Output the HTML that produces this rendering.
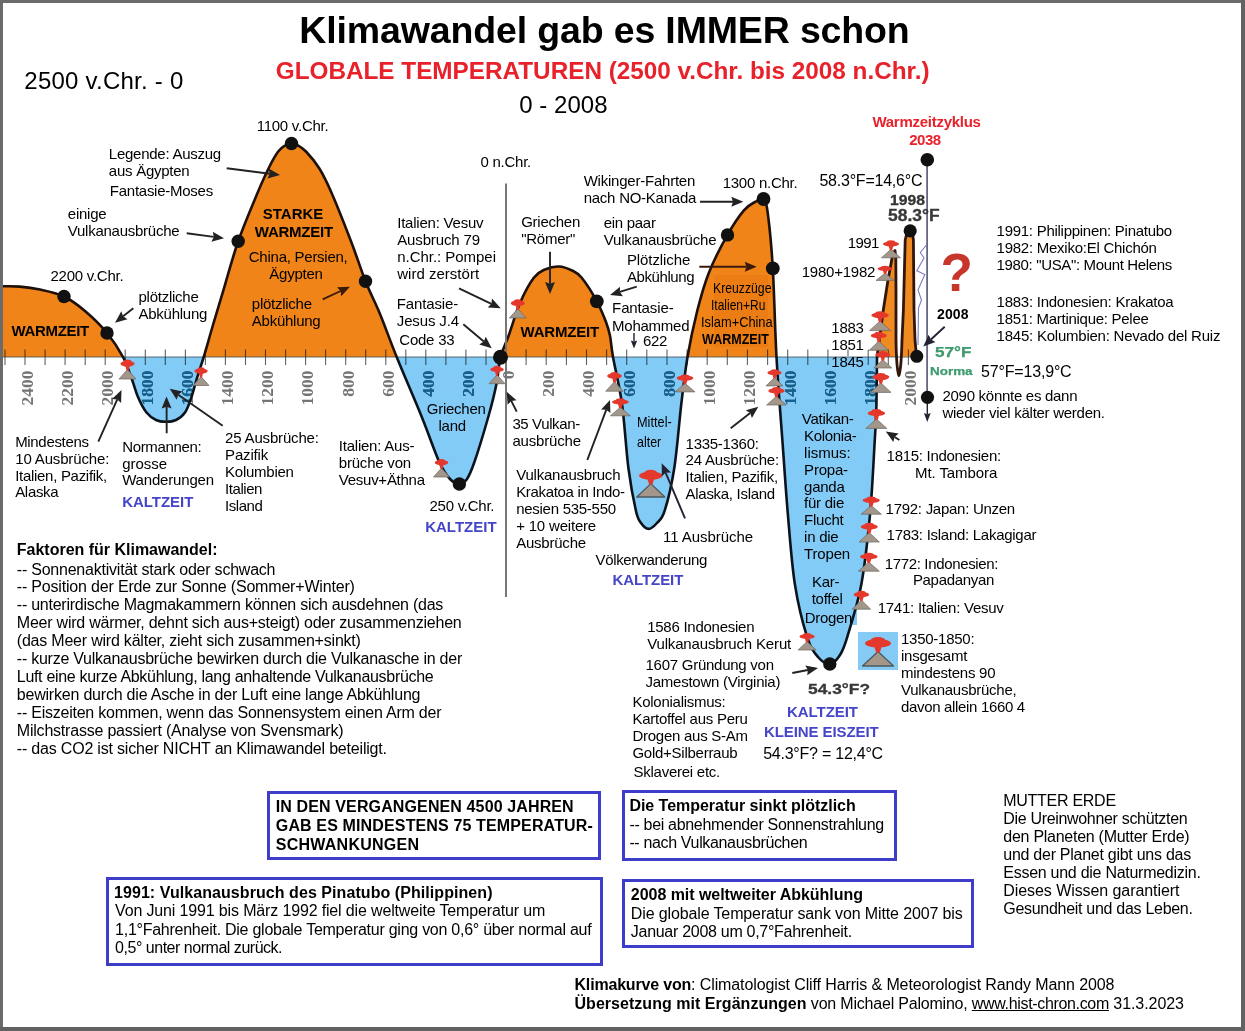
<!DOCTYPE html>
<html lang="de"><head><meta charset="utf-8"><title>Klimawandel gab es IMMER schon</title>
<style>
html,body{margin:0;padding:0;background:#fff;}
body{width:1245px;height:1031px;position:relative;overflow:hidden;font-family:"Liberation Sans",sans-serif;color:#000;}
.t{position:absolute;white-space:nowrap;}
.bx{position:absolute;border:3px solid #3d3dc9;background:#fff;}
.fr{position:absolute;background:#666;}
</style></head><body>
<svg width="1245" height="1031" viewBox="0 0 1245 1031" style="position:absolute;left:0;top:0">
<defs>
<clipPath id="up"><rect x="0" y="0" width="1245" height="357.0"/></clipPath>
<clipPath id="dn"><rect x="0" y="357.0" width="1245" height="700"/></clipPath>
</defs>
<g stroke="#606060" stroke-width="1.1"><line x1="486.0" y1="349.5" x2="486.0" y2="365" /><line x1="465.9" y1="349.5" x2="465.9" y2="365" /><line x1="445.9" y1="349.5" x2="445.9" y2="365" /><line x1="425.8" y1="349.5" x2="425.8" y2="365" /><line x1="405.8" y1="349.5" x2="405.8" y2="365" /><line x1="385.8" y1="349.5" x2="385.8" y2="365" /><line x1="365.7" y1="349.5" x2="365.7" y2="365" /><line x1="345.7" y1="349.5" x2="345.7" y2="365" /><line x1="325.6" y1="349.5" x2="325.6" y2="365" /><line x1="305.6" y1="349.5" x2="305.6" y2="365" /><line x1="285.6" y1="349.5" x2="285.6" y2="365" /><line x1="265.5" y1="349.5" x2="265.5" y2="365" /><line x1="245.5" y1="349.5" x2="245.5" y2="365" /><line x1="225.4" y1="349.5" x2="225.4" y2="365" /><line x1="205.4" y1="349.5" x2="205.4" y2="365" /><line x1="185.4" y1="349.5" x2="185.4" y2="365" /><line x1="165.3" y1="349.5" x2="165.3" y2="365" /><line x1="145.3" y1="349.5" x2="145.3" y2="365" /><line x1="125.2" y1="349.5" x2="125.2" y2="365" /><line x1="105.2" y1="349.5" x2="105.2" y2="365" /><line x1="85.2" y1="349.5" x2="85.2" y2="365" /><line x1="65.1" y1="349.5" x2="65.1" y2="365" /><line x1="45.1" y1="349.5" x2="45.1" y2="365" /><line x1="25.0" y1="349.5" x2="25.0" y2="365" /><line x1="5.0" y1="349.5" x2="5.0" y2="365" /><line x1="526.1" y1="349.5" x2="526.1" y2="365" /><line x1="546.2" y1="349.5" x2="546.2" y2="365" /><line x1="566.4" y1="349.5" x2="566.4" y2="365" /><line x1="586.5" y1="349.5" x2="586.5" y2="365" /><line x1="606.6" y1="349.5" x2="606.6" y2="365" /><line x1="626.7" y1="349.5" x2="626.7" y2="365" /><line x1="646.8" y1="349.5" x2="646.8" y2="365" /><line x1="667.0" y1="349.5" x2="667.0" y2="365" /><line x1="687.1" y1="349.5" x2="687.1" y2="365" /><line x1="707.2" y1="349.5" x2="707.2" y2="365" /><line x1="727.3" y1="349.5" x2="727.3" y2="365" /><line x1="747.4" y1="349.5" x2="747.4" y2="365" /><line x1="767.6" y1="349.5" x2="767.6" y2="365" /><line x1="787.7" y1="349.5" x2="787.7" y2="365" /><line x1="807.8" y1="349.5" x2="807.8" y2="365" /><line x1="827.9" y1="349.5" x2="827.9" y2="365" /><line x1="848.0" y1="349.5" x2="848.0" y2="365" /><line x1="868.2" y1="349.5" x2="868.2" y2="365" /><line x1="888.3" y1="349.5" x2="888.3" y2="365" /><line x1="908.4" y1="349.5" x2="908.4" y2="365" /><line x1="506.0" y1="349.5" x2="506.0" y2="365" /></g>
<g font-family="'Liberation Serif',serif" font-size="17.5" font-weight="bold" fill="#757575"><text transform="translate(473.7,370.5) rotate(-90)" text-anchor="end">200</text><text transform="translate(433.6,370.5) rotate(-90)" text-anchor="end">400</text><text transform="translate(393.6,370.5) rotate(-90)" text-anchor="end">600</text><text transform="translate(353.5,370.5) rotate(-90)" text-anchor="end">800</text><text transform="translate(313.4,370.5) rotate(-90)" text-anchor="end">1000</text><text transform="translate(273.3,370.5) rotate(-90)" text-anchor="end">1200</text><text transform="translate(233.2,370.5) rotate(-90)" text-anchor="end">1400</text><text transform="translate(193.2,370.5) rotate(-90)" text-anchor="end">1600</text><text transform="translate(153.1,370.5) rotate(-90)" text-anchor="end">1800</text><text transform="translate(113.0,370.5) rotate(-90)" text-anchor="end">2000</text><text transform="translate(72.9,370.5) rotate(-90)" text-anchor="end">2200</text><text transform="translate(32.8,370.5) rotate(-90)" text-anchor="end">2400</text><text transform="translate(513.8,370.5) rotate(-90)" text-anchor="end">0</text><text transform="translate(554.0,370.5) rotate(-90)" text-anchor="end">200</text><text transform="translate(594.3,370.5) rotate(-90)" text-anchor="end">400</text><text transform="translate(634.5,370.5) rotate(-90)" text-anchor="end">600</text><text transform="translate(674.8,370.5) rotate(-90)" text-anchor="end">800</text><text transform="translate(715.0,370.5) rotate(-90)" text-anchor="end">1000</text><text transform="translate(755.2,370.5) rotate(-90)" text-anchor="end">1200</text><text transform="translate(795.5,370.5) rotate(-90)" text-anchor="end">1400</text><text transform="translate(835.7,370.5) rotate(-90)" text-anchor="end">1600</text><text transform="translate(876.0,370.5) rotate(-90)" text-anchor="end">1800</text><text transform="translate(916.2,370.5) rotate(-90)" text-anchor="end">2000</text></g>
<rect x="832" y="356" width="35" height="14" fill="#fff"/>
<g style="mix-blend-mode:multiply">
<path d="M3.0,286.3 C5.8,286.4 13.8,286.1 20.0,286.6 C26.2,287.1 32.7,287.9 40.0,289.5 C47.3,291.1 56.5,292.9 64.0,296.5 C71.5,300.1 77.8,304.9 85.0,311.0 C92.2,317.1 100.7,325.3 107.0,333.0 C113.3,340.7 118.9,349.3 123.0,357.0 C127.1,364.7 129.3,372.3 131.8,379.0 C134.3,385.7 135.6,391.4 138.0,397.0 C140.4,402.6 143.5,408.7 146.5,412.5 C149.5,416.3 152.8,418.4 156.0,420.0 C159.2,421.6 162.7,421.8 166.0,421.8 C169.3,421.8 172.8,421.6 176.0,420.0 C179.2,418.4 182.4,416.3 185.0,412.5 C187.6,408.7 189.6,402.6 191.5,397.0 C193.4,391.4 194.7,385.7 196.7,379.0 C198.7,372.3 201.0,365.8 203.7,357.0 C206.4,348.2 209.4,337.2 212.7,326.0 C216.0,314.8 219.3,303.8 223.6,289.7 C227.8,275.6 232.5,257.4 238.2,241.2 C243.9,225.0 252.6,204.8 257.6,192.7 C262.7,180.6 265.1,175.4 268.5,168.5 C271.9,161.6 275.4,155.3 278.2,151.5 C280.9,147.7 282.8,146.8 285.0,145.5 C287.2,144.2 289.3,143.5 291.5,143.5 C293.7,143.5 295.6,144.2 298.0,145.5 C300.4,146.8 302.4,147.7 306.0,151.5 C309.6,155.3 315.1,161.6 319.4,168.5 C323.6,175.4 326.2,180.6 331.5,192.7 C336.8,204.8 345.3,226.4 351.0,241.2 C356.7,256.0 360.7,269.2 365.5,281.3 C370.3,293.4 374.8,301.4 380.0,314.0 C385.2,326.6 389.8,339.9 396.7,357.0 C403.6,374.1 414.5,399.0 421.6,416.5 C428.7,434.0 434.5,451.4 439.2,461.8 C443.9,472.2 446.6,475.3 450.0,479.0 C453.4,482.7 456.6,484.0 459.4,484.0 C462.2,484.0 464.5,482.7 467.0,479.0 C469.5,475.3 470.9,472.2 474.5,461.8 C478.1,451.4 484.7,429.5 488.4,416.5 C492.1,403.5 494.5,393.6 496.5,383.7 C498.5,373.8 498.5,365.2 500.5,357.2 C502.5,349.2 505.4,344.8 508.6,335.8 C511.9,326.8 515.8,312.7 520.0,303.0 C524.2,293.3 529.6,283.4 533.8,277.8 C538.0,272.2 540.8,271.4 545.0,269.5 C549.2,267.6 554.5,266.3 559.0,266.5 C563.5,266.7 568.2,268.6 572.0,270.5 C575.8,272.4 577.6,272.7 581.7,277.8 C585.8,282.9 592.8,293.9 596.8,301.3 C600.8,308.7 603.8,316.2 606.0,322.0 C608.2,327.8 608.8,330.0 610.0,335.8 C611.2,341.6 611.0,345.6 613.0,357.0 C615.0,368.4 619.4,385.5 622.0,404.0 C624.6,422.5 626.1,450.2 628.4,468.0 C630.7,485.8 633.8,501.5 635.9,510.7 C638.0,519.9 638.9,520.0 641.0,523.0 C643.1,526.0 646.0,528.9 648.7,528.9 C651.4,528.9 654.3,526.0 657.0,523.0 C659.7,520.0 661.8,519.9 664.7,510.7 C667.6,501.5 671.5,485.8 674.3,468.0 C677.1,450.2 679.1,422.5 681.3,404.0 C683.5,385.5 684.9,372.5 687.5,357.0 C690.1,341.5 693.7,324.9 697.2,311.0 C700.7,297.1 703.6,286.1 708.6,273.4 C713.6,260.7 721.6,245.4 727.5,234.9 C733.4,224.4 739.3,215.9 743.9,210.4 C748.5,204.9 751.7,203.9 755.0,202.0 C758.3,200.1 761.3,196.8 763.5,199.0 C765.7,201.2 766.5,203.4 768.0,215.0 C769.5,226.6 771.4,244.7 772.8,268.4 C774.2,292.1 774.9,327.6 776.5,357.0 C778.1,386.4 780.8,418.4 782.7,444.7 C784.6,471.0 785.9,491.3 787.9,514.6 C789.9,537.9 791.7,564.0 794.9,584.4 C798.1,604.8 803.2,624.7 807.1,636.8 C811.0,648.9 814.2,652.5 818.0,657.0 C821.8,661.5 826.1,664.3 829.8,664.0 C833.5,663.7 837.1,659.5 840.0,655.0 C842.9,650.5 843.8,648.6 847.3,636.8 C850.8,625.0 857.5,604.8 861.3,584.4 C865.1,564.0 867.8,537.9 870.0,514.6 C872.2,491.3 873.5,462.2 874.5,444.7 C875.5,427.2 875.9,424.4 876.3,409.8 C876.7,395.2 876.9,365.8 877.0,357.0 L877,357.0 L3,357.0 Z" fill="#f08419" clip-path="url(#up)"/>
<path d="M3.0,286.3 C5.8,286.4 13.8,286.1 20.0,286.6 C26.2,287.1 32.7,287.9 40.0,289.5 C47.3,291.1 56.5,292.9 64.0,296.5 C71.5,300.1 77.8,304.9 85.0,311.0 C92.2,317.1 100.7,325.3 107.0,333.0 C113.3,340.7 118.9,349.3 123.0,357.0 C127.1,364.7 129.3,372.3 131.8,379.0 C134.3,385.7 135.6,391.4 138.0,397.0 C140.4,402.6 143.5,408.7 146.5,412.5 C149.5,416.3 152.8,418.4 156.0,420.0 C159.2,421.6 162.7,421.8 166.0,421.8 C169.3,421.8 172.8,421.6 176.0,420.0 C179.2,418.4 182.4,416.3 185.0,412.5 C187.6,408.7 189.6,402.6 191.5,397.0 C193.4,391.4 194.7,385.7 196.7,379.0 C198.7,372.3 201.0,365.8 203.7,357.0 C206.4,348.2 209.4,337.2 212.7,326.0 C216.0,314.8 219.3,303.8 223.6,289.7 C227.8,275.6 232.5,257.4 238.2,241.2 C243.9,225.0 252.6,204.8 257.6,192.7 C262.7,180.6 265.1,175.4 268.5,168.5 C271.9,161.6 275.4,155.3 278.2,151.5 C280.9,147.7 282.8,146.8 285.0,145.5 C287.2,144.2 289.3,143.5 291.5,143.5 C293.7,143.5 295.6,144.2 298.0,145.5 C300.4,146.8 302.4,147.7 306.0,151.5 C309.6,155.3 315.1,161.6 319.4,168.5 C323.6,175.4 326.2,180.6 331.5,192.7 C336.8,204.8 345.3,226.4 351.0,241.2 C356.7,256.0 360.7,269.2 365.5,281.3 C370.3,293.4 374.8,301.4 380.0,314.0 C385.2,326.6 389.8,339.9 396.7,357.0 C403.6,374.1 414.5,399.0 421.6,416.5 C428.7,434.0 434.5,451.4 439.2,461.8 C443.9,472.2 446.6,475.3 450.0,479.0 C453.4,482.7 456.6,484.0 459.4,484.0 C462.2,484.0 464.5,482.7 467.0,479.0 C469.5,475.3 470.9,472.2 474.5,461.8 C478.1,451.4 484.7,429.5 488.4,416.5 C492.1,403.5 494.5,393.6 496.5,383.7 C498.5,373.8 498.5,365.2 500.5,357.2 C502.5,349.2 505.4,344.8 508.6,335.8 C511.9,326.8 515.8,312.7 520.0,303.0 C524.2,293.3 529.6,283.4 533.8,277.8 C538.0,272.2 540.8,271.4 545.0,269.5 C549.2,267.6 554.5,266.3 559.0,266.5 C563.5,266.7 568.2,268.6 572.0,270.5 C575.8,272.4 577.6,272.7 581.7,277.8 C585.8,282.9 592.8,293.9 596.8,301.3 C600.8,308.7 603.8,316.2 606.0,322.0 C608.2,327.8 608.8,330.0 610.0,335.8 C611.2,341.6 611.0,345.6 613.0,357.0 C615.0,368.4 619.4,385.5 622.0,404.0 C624.6,422.5 626.1,450.2 628.4,468.0 C630.7,485.8 633.8,501.5 635.9,510.7 C638.0,519.9 638.9,520.0 641.0,523.0 C643.1,526.0 646.0,528.9 648.7,528.9 C651.4,528.9 654.3,526.0 657.0,523.0 C659.7,520.0 661.8,519.9 664.7,510.7 C667.6,501.5 671.5,485.8 674.3,468.0 C677.1,450.2 679.1,422.5 681.3,404.0 C683.5,385.5 684.9,372.5 687.5,357.0 C690.1,341.5 693.7,324.9 697.2,311.0 C700.7,297.1 703.6,286.1 708.6,273.4 C713.6,260.7 721.6,245.4 727.5,234.9 C733.4,224.4 739.3,215.9 743.9,210.4 C748.5,204.9 751.7,203.9 755.0,202.0 C758.3,200.1 761.3,196.8 763.5,199.0 C765.7,201.2 766.5,203.4 768.0,215.0 C769.5,226.6 771.4,244.7 772.8,268.4 C774.2,292.1 774.9,327.6 776.5,357.0 C778.1,386.4 780.8,418.4 782.7,444.7 C784.6,471.0 785.9,491.3 787.9,514.6 C789.9,537.9 791.7,564.0 794.9,584.4 C798.1,604.8 803.2,624.7 807.1,636.8 C811.0,648.9 814.2,652.5 818.0,657.0 C821.8,661.5 826.1,664.3 829.8,664.0 C833.5,663.7 837.1,659.5 840.0,655.0 C842.9,650.5 843.8,648.6 847.3,636.8 C850.8,625.0 857.5,604.8 861.3,584.4 C865.1,564.0 867.8,537.9 870.0,514.6 C872.2,491.3 873.5,462.2 874.5,444.7 C875.5,427.2 875.9,424.4 876.3,409.8 C876.7,395.2 876.9,365.8 877.0,357.0 L877,357.0 L3,357.0 Z" fill="#82cbf7" clip-path="url(#dn)"/>
<rect x="803" y="608" width="54" height="17" fill="#82cbf7"/>
<path d="M877,357 L880,335 L883.3,310 L888,280 L893,253 L895,250.5 L895.8,258 L896,290 L896,340 C896.3,360 897.5,372 898.9,375.5 C900.3,372 901.5,360 902,340 L903.4,310 L905.2,240 L907,232.5 L912.4,232.5 L913.4,240 L914,310 L915,340 L916.5,356.5 L877,357 Z" fill="#f08b22" clip-path="url(#up)"/>
</g>
<rect x="714" y="275" width="54" height="72" fill="#e87a12" opacity="0.7"/>
<clipPath id="cf"><path d="M3.0,286.3 C5.8,286.4 13.8,286.1 20.0,286.6 C26.2,287.1 32.7,287.9 40.0,289.5 C47.3,291.1 56.5,292.9 64.0,296.5 C71.5,300.1 77.8,304.9 85.0,311.0 C92.2,317.1 100.7,325.3 107.0,333.0 C113.3,340.7 118.9,349.3 123.0,357.0 C127.1,364.7 129.3,372.3 131.8,379.0 C134.3,385.7 135.6,391.4 138.0,397.0 C140.4,402.6 143.5,408.7 146.5,412.5 C149.5,416.3 152.8,418.4 156.0,420.0 C159.2,421.6 162.7,421.8 166.0,421.8 C169.3,421.8 172.8,421.6 176.0,420.0 C179.2,418.4 182.4,416.3 185.0,412.5 C187.6,408.7 189.6,402.6 191.5,397.0 C193.4,391.4 194.7,385.7 196.7,379.0 C198.7,372.3 201.0,365.8 203.7,357.0 C206.4,348.2 209.4,337.2 212.7,326.0 C216.0,314.8 219.3,303.8 223.6,289.7 C227.8,275.6 232.5,257.4 238.2,241.2 C243.9,225.0 252.6,204.8 257.6,192.7 C262.7,180.6 265.1,175.4 268.5,168.5 C271.9,161.6 275.4,155.3 278.2,151.5 C280.9,147.7 282.8,146.8 285.0,145.5 C287.2,144.2 289.3,143.5 291.5,143.5 C293.7,143.5 295.6,144.2 298.0,145.5 C300.4,146.8 302.4,147.7 306.0,151.5 C309.6,155.3 315.1,161.6 319.4,168.5 C323.6,175.4 326.2,180.6 331.5,192.7 C336.8,204.8 345.3,226.4 351.0,241.2 C356.7,256.0 360.7,269.2 365.5,281.3 C370.3,293.4 374.8,301.4 380.0,314.0 C385.2,326.6 389.8,339.9 396.7,357.0 C403.6,374.1 414.5,399.0 421.6,416.5 C428.7,434.0 434.5,451.4 439.2,461.8 C443.9,472.2 446.6,475.3 450.0,479.0 C453.4,482.7 456.6,484.0 459.4,484.0 C462.2,484.0 464.5,482.7 467.0,479.0 C469.5,475.3 470.9,472.2 474.5,461.8 C478.1,451.4 484.7,429.5 488.4,416.5 C492.1,403.5 494.5,393.6 496.5,383.7 C498.5,373.8 498.5,365.2 500.5,357.2 C502.5,349.2 505.4,344.8 508.6,335.8 C511.9,326.8 515.8,312.7 520.0,303.0 C524.2,293.3 529.6,283.4 533.8,277.8 C538.0,272.2 540.8,271.4 545.0,269.5 C549.2,267.6 554.5,266.3 559.0,266.5 C563.5,266.7 568.2,268.6 572.0,270.5 C575.8,272.4 577.6,272.7 581.7,277.8 C585.8,282.9 592.8,293.9 596.8,301.3 C600.8,308.7 603.8,316.2 606.0,322.0 C608.2,327.8 608.8,330.0 610.0,335.8 C611.2,341.6 611.0,345.6 613.0,357.0 C615.0,368.4 619.4,385.5 622.0,404.0 C624.6,422.5 626.1,450.2 628.4,468.0 C630.7,485.8 633.8,501.5 635.9,510.7 C638.0,519.9 638.9,520.0 641.0,523.0 C643.1,526.0 646.0,528.9 648.7,528.9 C651.4,528.9 654.3,526.0 657.0,523.0 C659.7,520.0 661.8,519.9 664.7,510.7 C667.6,501.5 671.5,485.8 674.3,468.0 C677.1,450.2 679.1,422.5 681.3,404.0 C683.5,385.5 684.9,372.5 687.5,357.0 C690.1,341.5 693.7,324.9 697.2,311.0 C700.7,297.1 703.6,286.1 708.6,273.4 C713.6,260.7 721.6,245.4 727.5,234.9 C733.4,224.4 739.3,215.9 743.9,210.4 C748.5,204.9 751.7,203.9 755.0,202.0 C758.3,200.1 761.3,196.8 763.5,199.0 C765.7,201.2 766.5,203.4 768.0,215.0 C769.5,226.6 771.4,244.7 772.8,268.4 C774.2,292.1 774.9,327.6 776.5,357.0 C778.1,386.4 780.8,418.4 782.7,444.7 C784.6,471.0 785.9,491.3 787.9,514.6 C789.9,537.9 791.7,564.0 794.9,584.4 C798.1,604.8 803.2,624.7 807.1,636.8 C811.0,648.9 814.2,652.5 818.0,657.0 C821.8,661.5 826.1,664.3 829.8,664.0 C833.5,663.7 837.1,659.5 840.0,655.0 C842.9,650.5 843.8,648.6 847.3,636.8 C850.8,625.0 857.5,604.8 861.3,584.4 C865.1,564.0 867.8,537.9 870.0,514.6 C872.2,491.3 873.5,462.2 874.5,444.7 C875.5,427.2 875.9,424.4 876.3,409.8 C876.7,395.2 876.9,365.8 877.0,357.0 L877,357.0 L3,357.0 Z"/></clipPath>
<g clip-path="url(#dn)"><g clip-path="url(#cf)" font-family="'Liberation Serif',serif" font-size="17.5" font-weight="bold" fill="#14608f"><text transform="translate(153.1,370.5) rotate(-90)" text-anchor="end">1800</text><text transform="translate(193.2,370.5) rotate(-90)" text-anchor="end">1600</text><text transform="translate(433.6,370.5) rotate(-90)" text-anchor="end">400</text><text transform="translate(473.7,370.5) rotate(-90)" text-anchor="end">200</text><text transform="translate(634.5,370.5) rotate(-90)" text-anchor="end">600</text><text transform="translate(674.8,370.5) rotate(-90)" text-anchor="end">800</text><text transform="translate(795.5,370.5) rotate(-90)" text-anchor="end">1400</text><text transform="translate(835.7,370.5) rotate(-90)" text-anchor="end">1600</text><text transform="translate(876.0,370.5) rotate(-90)" text-anchor="end">1800</text></g></g>
<line x1="3" y1="357.0" x2="917" y2="357.0" stroke="#3a4a55" stroke-width="1.2" opacity="0.8"/>
<path d="M3.0,286.3 C5.8,286.4 13.8,286.1 20.0,286.6 C26.2,287.1 32.7,287.9 40.0,289.5 C47.3,291.1 56.5,292.9 64.0,296.5 C71.5,300.1 77.8,304.9 85.0,311.0 C92.2,317.1 100.7,325.3 107.0,333.0 C113.3,340.7 118.9,349.3 123.0,357.0 C127.1,364.7 129.3,372.3 131.8,379.0 C134.3,385.7 135.6,391.4 138.0,397.0 C140.4,402.6 143.5,408.7 146.5,412.5 C149.5,416.3 152.8,418.4 156.0,420.0 C159.2,421.6 162.7,421.8 166.0,421.8 C169.3,421.8 172.8,421.6 176.0,420.0 C179.2,418.4 182.4,416.3 185.0,412.5 C187.6,408.7 189.6,402.6 191.5,397.0 C193.4,391.4 194.7,385.7 196.7,379.0 C198.7,372.3 201.0,365.8 203.7,357.0 C206.4,348.2 209.4,337.2 212.7,326.0 C216.0,314.8 219.3,303.8 223.6,289.7 C227.8,275.6 232.5,257.4 238.2,241.2 C243.9,225.0 252.6,204.8 257.6,192.7 C262.7,180.6 265.1,175.4 268.5,168.5 C271.9,161.6 275.4,155.3 278.2,151.5 C280.9,147.7 282.8,146.8 285.0,145.5 C287.2,144.2 289.3,143.5 291.5,143.5 C293.7,143.5 295.6,144.2 298.0,145.5 C300.4,146.8 302.4,147.7 306.0,151.5 C309.6,155.3 315.1,161.6 319.4,168.5 C323.6,175.4 326.2,180.6 331.5,192.7 C336.8,204.8 345.3,226.4 351.0,241.2 C356.7,256.0 360.7,269.2 365.5,281.3 C370.3,293.4 374.8,301.4 380.0,314.0 C385.2,326.6 389.8,339.9 396.7,357.0 C403.6,374.1 414.5,399.0 421.6,416.5 C428.7,434.0 434.5,451.4 439.2,461.8 C443.9,472.2 446.6,475.3 450.0,479.0 C453.4,482.7 456.6,484.0 459.4,484.0 C462.2,484.0 464.5,482.7 467.0,479.0 C469.5,475.3 470.9,472.2 474.5,461.8 C478.1,451.4 484.7,429.5 488.4,416.5 C492.1,403.5 494.5,393.6 496.5,383.7 C498.5,373.8 498.5,365.2 500.5,357.2 C502.5,349.2 505.4,344.8 508.6,335.8 C511.9,326.8 515.8,312.7 520.0,303.0 C524.2,293.3 529.6,283.4 533.8,277.8 C538.0,272.2 540.8,271.4 545.0,269.5 C549.2,267.6 554.5,266.3 559.0,266.5 C563.5,266.7 568.2,268.6 572.0,270.5 C575.8,272.4 577.6,272.7 581.7,277.8 C585.8,282.9 592.8,293.9 596.8,301.3 C600.8,308.7 603.8,316.2 606.0,322.0 C608.2,327.8 608.8,330.0 610.0,335.8 C611.2,341.6 611.0,345.6 613.0,357.0 C615.0,368.4 619.4,385.5 622.0,404.0 C624.6,422.5 626.1,450.2 628.4,468.0 C630.7,485.8 633.8,501.5 635.9,510.7 C638.0,519.9 638.9,520.0 641.0,523.0 C643.1,526.0 646.0,528.9 648.7,528.9 C651.4,528.9 654.3,526.0 657.0,523.0 C659.7,520.0 661.8,519.9 664.7,510.7 C667.6,501.5 671.5,485.8 674.3,468.0 C677.1,450.2 679.1,422.5 681.3,404.0 C683.5,385.5 684.9,372.5 687.5,357.0 C690.1,341.5 693.7,324.9 697.2,311.0 C700.7,297.1 703.6,286.1 708.6,273.4 C713.6,260.7 721.6,245.4 727.5,234.9 C733.4,224.4 739.3,215.9 743.9,210.4 C748.5,204.9 751.7,203.9 755.0,202.0 C758.3,200.1 761.3,196.8 763.5,199.0 C765.7,201.2 766.5,203.4 768.0,215.0 C769.5,226.6 771.4,244.7 772.8,268.4 C774.2,292.1 774.9,327.6 776.5,357.0 C778.1,386.4 780.8,418.4 782.7,444.7 C784.6,471.0 785.9,491.3 787.9,514.6 C789.9,537.9 791.7,564.0 794.9,584.4 C798.1,604.8 803.2,624.7 807.1,636.8 C811.0,648.9 814.2,652.5 818.0,657.0 C821.8,661.5 826.1,664.3 829.8,664.0 C833.5,663.7 837.1,659.5 840.0,655.0 C842.9,650.5 843.8,648.6 847.3,636.8 C850.8,625.0 857.5,604.8 861.3,584.4 C865.1,564.0 867.8,537.9 870.0,514.6 C872.2,491.3 873.5,462.2 874.5,444.7 C875.5,427.2 875.9,424.4 876.3,409.8 C876.7,395.2 876.9,365.8 877.0,357.0" fill="none" stroke="#1d110a" stroke-width="2.6" stroke-linejoin="round" clip-path="url(#up)"/>
<path d="M3.0,286.3 C5.8,286.4 13.8,286.1 20.0,286.6 C26.2,287.1 32.7,287.9 40.0,289.5 C47.3,291.1 56.5,292.9 64.0,296.5 C71.5,300.1 77.8,304.9 85.0,311.0 C92.2,317.1 100.7,325.3 107.0,333.0 C113.3,340.7 118.9,349.3 123.0,357.0 C127.1,364.7 129.3,372.3 131.8,379.0 C134.3,385.7 135.6,391.4 138.0,397.0 C140.4,402.6 143.5,408.7 146.5,412.5 C149.5,416.3 152.8,418.4 156.0,420.0 C159.2,421.6 162.7,421.8 166.0,421.8 C169.3,421.8 172.8,421.6 176.0,420.0 C179.2,418.4 182.4,416.3 185.0,412.5 C187.6,408.7 189.6,402.6 191.5,397.0 C193.4,391.4 194.7,385.7 196.7,379.0 C198.7,372.3 201.0,365.8 203.7,357.0 C206.4,348.2 209.4,337.2 212.7,326.0 C216.0,314.8 219.3,303.8 223.6,289.7 C227.8,275.6 232.5,257.4 238.2,241.2 C243.9,225.0 252.6,204.8 257.6,192.7 C262.7,180.6 265.1,175.4 268.5,168.5 C271.9,161.6 275.4,155.3 278.2,151.5 C280.9,147.7 282.8,146.8 285.0,145.5 C287.2,144.2 289.3,143.5 291.5,143.5 C293.7,143.5 295.6,144.2 298.0,145.5 C300.4,146.8 302.4,147.7 306.0,151.5 C309.6,155.3 315.1,161.6 319.4,168.5 C323.6,175.4 326.2,180.6 331.5,192.7 C336.8,204.8 345.3,226.4 351.0,241.2 C356.7,256.0 360.7,269.2 365.5,281.3 C370.3,293.4 374.8,301.4 380.0,314.0 C385.2,326.6 389.8,339.9 396.7,357.0 C403.6,374.1 414.5,399.0 421.6,416.5 C428.7,434.0 434.5,451.4 439.2,461.8 C443.9,472.2 446.6,475.3 450.0,479.0 C453.4,482.7 456.6,484.0 459.4,484.0 C462.2,484.0 464.5,482.7 467.0,479.0 C469.5,475.3 470.9,472.2 474.5,461.8 C478.1,451.4 484.7,429.5 488.4,416.5 C492.1,403.5 494.5,393.6 496.5,383.7 C498.5,373.8 498.5,365.2 500.5,357.2 C502.5,349.2 505.4,344.8 508.6,335.8 C511.9,326.8 515.8,312.7 520.0,303.0 C524.2,293.3 529.6,283.4 533.8,277.8 C538.0,272.2 540.8,271.4 545.0,269.5 C549.2,267.6 554.5,266.3 559.0,266.5 C563.5,266.7 568.2,268.6 572.0,270.5 C575.8,272.4 577.6,272.7 581.7,277.8 C585.8,282.9 592.8,293.9 596.8,301.3 C600.8,308.7 603.8,316.2 606.0,322.0 C608.2,327.8 608.8,330.0 610.0,335.8 C611.2,341.6 611.0,345.6 613.0,357.0 C615.0,368.4 619.4,385.5 622.0,404.0 C624.6,422.5 626.1,450.2 628.4,468.0 C630.7,485.8 633.8,501.5 635.9,510.7 C638.0,519.9 638.9,520.0 641.0,523.0 C643.1,526.0 646.0,528.9 648.7,528.9 C651.4,528.9 654.3,526.0 657.0,523.0 C659.7,520.0 661.8,519.9 664.7,510.7 C667.6,501.5 671.5,485.8 674.3,468.0 C677.1,450.2 679.1,422.5 681.3,404.0 C683.5,385.5 684.9,372.5 687.5,357.0 C690.1,341.5 693.7,324.9 697.2,311.0 C700.7,297.1 703.6,286.1 708.6,273.4 C713.6,260.7 721.6,245.4 727.5,234.9 C733.4,224.4 739.3,215.9 743.9,210.4 C748.5,204.9 751.7,203.9 755.0,202.0 C758.3,200.1 761.3,196.8 763.5,199.0 C765.7,201.2 766.5,203.4 768.0,215.0 C769.5,226.6 771.4,244.7 772.8,268.4 C774.2,292.1 774.9,327.6 776.5,357.0 C778.1,386.4 780.8,418.4 782.7,444.7 C784.6,471.0 785.9,491.3 787.9,514.6 C789.9,537.9 791.7,564.0 794.9,584.4 C798.1,604.8 803.2,624.7 807.1,636.8 C811.0,648.9 814.2,652.5 818.0,657.0 C821.8,661.5 826.1,664.3 829.8,664.0 C833.5,663.7 837.1,659.5 840.0,655.0 C842.9,650.5 843.8,648.6 847.3,636.8 C850.8,625.0 857.5,604.8 861.3,584.4 C865.1,564.0 867.8,537.9 870.0,514.6 C872.2,491.3 873.5,462.2 874.5,444.7 C875.5,427.2 875.9,424.4 876.3,409.8 C876.7,395.2 876.9,365.8 877.0,357.0" fill="none" stroke="#0b141c" stroke-width="2.6" stroke-linejoin="round" clip-path="url(#dn)"/>
<path d="M877,357 L880,335 L883.3,310 L888,280 L893,253 L895,250.5 L895.8,258 L896,290 L896,340 C896.3,360 897.5,372 898.9,375.5 C900.3,372 901.5,360 902,340 L903.4,310 L905.2,240 L907,232.5 L912.4,232.5 L913.4,240 L914,310 L915,340 L916.5,356.5" fill="none" stroke="#32160c" stroke-width="2.8" stroke-linejoin="round"/>
<line x1="506" y1="183.5" x2="506" y2="597" stroke="#777" stroke-width="2"/>
<line x1="927.1" y1="160" x2="927.1" y2="402" stroke="#666680" stroke-width="1.8"/>
<path d="M926.5,245 L920.3,252.5 L924,258 L916.8,270.8 L924.8,274.5 L918,290 L921.5,300 L918.5,308 L918,345" fill="none" stroke="#6464b4" stroke-width="1.1" opacity="0.85"/>
<g style="filter:blur(0.35px)"><g><path d="M127.5,369.4 L136.0,379.0 L119.0,379.0 Z" fill="#a2978a" stroke="#6b6660" stroke-width="0.7" stroke-linejoin="round"/><ellipse cx="127.5" cy="363.7" rx="7.1" ry="2.9" fill="#e5382c"/><ellipse cx="127.5" cy="361.9" rx="3.9" ry="2.3" fill="#e5382c"/><path d="M125.0,364.0 L130.1,364.0 L128.5,370.4 L126.5,370.4 Z" fill="#e5382c"/></g><g><path d="M201.0,376.5 L209.0,385.5 L193.0,385.5 Z" fill="#a2978a" stroke="#6b6660" stroke-width="0.7" stroke-linejoin="round"/><ellipse cx="201.0" cy="371.1" rx="6.7" ry="2.7" fill="#e5382c"/><ellipse cx="201.0" cy="369.4" rx="3.7" ry="2.1" fill="#e5382c"/><path d="M198.6,371.4 L203.4,371.4 L202.0,377.5 L200.0,377.5 Z" fill="#e5382c"/></g><g><path d="M441.5,468.0 L449.5,477.0 L433.5,477.0 Z" fill="#a2978a" stroke="#6b6660" stroke-width="0.7" stroke-linejoin="round"/><ellipse cx="441.5" cy="462.7" rx="6.7" ry="2.7" fill="#e5382c"/><ellipse cx="441.5" cy="461.0" rx="3.7" ry="2.1" fill="#e5382c"/><path d="M439.1,463.0 L443.9,463.0 L442.5,469.0 L440.5,469.0 Z" fill="#e5382c"/></g><g><path d="M497.0,374.8 L505.0,383.7 L489.0,383.7 Z" fill="#a2978a" stroke="#6b6660" stroke-width="0.7" stroke-linejoin="round"/><ellipse cx="497.0" cy="369.5" rx="6.7" ry="2.6" fill="#e5382c"/><ellipse cx="497.0" cy="367.8" rx="3.7" ry="2.1" fill="#e5382c"/><path d="M494.6,369.8 L499.4,369.8 L498.0,375.8 L496.0,375.8 Z" fill="#e5382c"/></g><g><path d="M517.8,308.7 L526.3,318.0 L509.3,318.0 Z" fill="#a2978a" stroke="#6b6660" stroke-width="0.7" stroke-linejoin="round"/><ellipse cx="517.8" cy="303.2" rx="7.1" ry="2.8" fill="#e5382c"/><ellipse cx="517.8" cy="301.4" rx="3.9" ry="2.2" fill="#e5382c"/><path d="M515.2,303.5 L520.3,303.5 L518.8,309.7 L516.8,309.7 Z" fill="#e5382c"/></g><g><path d="M614.5,381.7 L623.3,391.2 L605.7,391.2 Z" fill="#a2978a" stroke="#6b6660" stroke-width="0.7" stroke-linejoin="round"/><ellipse cx="614.5" cy="376.0" rx="7.4" ry="2.8" fill="#e5382c"/><ellipse cx="614.5" cy="374.2" rx="4.1" ry="2.3" fill="#e5382c"/><path d="M611.9,376.3 L617.1,376.3 L615.6,382.7 L613.4,382.7 Z" fill="#e5382c"/></g><g><path d="M620.4,407.2 L630.4,415.8 L610.4,415.8 Z" fill="#a2978a" stroke="#6b6660" stroke-width="0.7" stroke-linejoin="round"/><ellipse cx="620.4" cy="402.0" rx="8.4" ry="2.6" fill="#e5382c"/><ellipse cx="620.4" cy="400.4" rx="4.6" ry="2.1" fill="#e5382c"/><path d="M617.4,402.3 L623.4,402.3 L621.6,408.2 L619.2,408.2 Z" fill="#e5382c"/></g><g><path d="M685.0,383.3 L695.0,391.9 L675.0,391.9 Z" fill="#a2978a" stroke="#6b6660" stroke-width="0.7" stroke-linejoin="round"/><ellipse cx="685.0" cy="378.1" rx="8.4" ry="2.6" fill="#e5382c"/><ellipse cx="685.0" cy="376.5" rx="4.6" ry="2.1" fill="#e5382c"/><path d="M682.0,378.4 L688.0,378.4 L686.2,384.3 L683.8,384.3 Z" fill="#e5382c"/></g><g><path d="M774.5,377.6 L783.0,385.9 L766.0,385.9 Z" fill="#a2978a" stroke="#6b6660" stroke-width="0.7" stroke-linejoin="round"/><ellipse cx="774.5" cy="372.7" rx="7.1" ry="2.5" fill="#e5382c"/><ellipse cx="774.5" cy="371.2" rx="3.9" ry="2.0" fill="#e5382c"/><path d="M772.0,373.0 L777.0,373.0 L775.5,378.6 L773.5,378.6 Z" fill="#e5382c"/></g><g><path d="M776.5,396.2 L786.3,405.0 L766.7,405.0 Z" fill="#a2978a" stroke="#6b6660" stroke-width="0.7" stroke-linejoin="round"/><ellipse cx="776.5" cy="390.9" rx="8.2" ry="2.6" fill="#e5382c"/><ellipse cx="776.5" cy="389.2" rx="4.5" ry="2.1" fill="#e5382c"/><path d="M773.6,391.2 L779.4,391.2 L777.7,397.2 L775.3,397.2 Z" fill="#e5382c"/></g><g><path d="M878.8,341.1 L888.3,350.3 L869.3,350.3 Z" fill="#a2978a" stroke="#6b6660" stroke-width="0.7" stroke-linejoin="round"/><ellipse cx="878.8" cy="335.7" rx="8.0" ry="2.7" fill="#e5382c"/><ellipse cx="878.8" cy="334.0" rx="4.4" ry="2.2" fill="#e5382c"/><path d="M875.9,336.0 L881.6,336.0 L879.9,342.1 L877.7,342.1 Z" fill="#e5382c"/></g><g><path d="M882.8,359.7 L891.8,368.0 L873.8,368.0 Z" fill="#a2978a" stroke="#6b6660" stroke-width="0.7" stroke-linejoin="round"/><ellipse cx="882.8" cy="354.7" rx="7.6" ry="2.5" fill="#e5382c"/><ellipse cx="882.8" cy="353.1" rx="4.2" ry="2.0" fill="#e5382c"/><path d="M880.1,355.0 L885.5,355.0 L883.9,360.7 L881.7,360.7 Z" fill="#e5382c"/></g><g><path d="M880.8,382.8 L891.0,392.4 L870.6,392.4 Z" fill="#a2978a" stroke="#6b6660" stroke-width="0.7" stroke-linejoin="round"/><ellipse cx="880.8" cy="377.1" rx="8.6" ry="2.9" fill="#e5382c"/><ellipse cx="880.8" cy="375.3" rx="4.7" ry="2.3" fill="#e5382c"/><path d="M877.7,377.4 L883.9,377.4 L882.0,383.8 L879.6,383.8 Z" fill="#e5382c"/></g><g><path d="M876.4,418.9 L886.9,428.4 L865.9,428.4 Z" fill="#a2978a" stroke="#6b6660" stroke-width="0.7" stroke-linejoin="round"/><ellipse cx="876.4" cy="413.2" rx="8.8" ry="2.8" fill="#e5382c"/><ellipse cx="876.4" cy="411.4" rx="4.9" ry="2.3" fill="#e5382c"/><path d="M873.2,413.5 L879.5,413.5 L877.7,419.9 L875.1,419.9 Z" fill="#e5382c"/></g><g><path d="M871.2,505.5 L881.4,514.2 L861.0,514.2 Z" fill="#a2978a" stroke="#6b6660" stroke-width="0.7" stroke-linejoin="round"/><ellipse cx="871.2" cy="500.3" rx="8.6" ry="2.6" fill="#e5382c"/><ellipse cx="871.2" cy="498.7" rx="4.7" ry="2.1" fill="#e5382c"/><path d="M868.1,500.6 L874.3,500.6 L872.4,506.5 L870.0,506.5 Z" fill="#e5382c"/></g><g><path d="M869.2,532.5 L879.4,542.0 L859.0,542.0 Z" fill="#a2978a" stroke="#6b6660" stroke-width="0.7" stroke-linejoin="round"/><ellipse cx="869.2" cy="526.8" rx="8.6" ry="2.8" fill="#e5382c"/><ellipse cx="869.2" cy="525.0" rx="4.7" ry="2.3" fill="#e5382c"/><path d="M866.1,527.1 L872.3,527.1 L870.4,533.5 L868.0,533.5 Z" fill="#e5382c"/></g><g><path d="M868.8,562.1 L879.3,571.2 L858.3,571.2 Z" fill="#a2978a" stroke="#6b6660" stroke-width="0.7" stroke-linejoin="round"/><ellipse cx="868.8" cy="556.7" rx="8.8" ry="2.7" fill="#e5382c"/><ellipse cx="868.8" cy="555.0" rx="4.9" ry="2.2" fill="#e5382c"/><path d="M865.6,557.0 L871.9,557.0 L870.1,563.1 L867.5,563.1 Z" fill="#e5382c"/></g><g><path d="M861.4,600.1 L870.6,609.2 L852.2,609.2 Z" fill="#a2978a" stroke="#6b6660" stroke-width="0.7" stroke-linejoin="round"/><ellipse cx="861.4" cy="594.7" rx="7.7" ry="2.7" fill="#e5382c"/><ellipse cx="861.4" cy="593.0" rx="4.3" ry="2.2" fill="#e5382c"/><path d="M858.6,595.0 L864.2,595.0 L862.5,601.1 L860.3,601.1 Z" fill="#e5382c"/></g><g><path d="M807.1,641.6 L816.1,650.0 L798.1,650.0 Z" fill="#a2978a" stroke="#6b6660" stroke-width="0.7" stroke-linejoin="round"/><ellipse cx="807.1" cy="636.5" rx="7.6" ry="2.5" fill="#e5382c"/><ellipse cx="807.1" cy="634.9" rx="4.2" ry="2.0" fill="#e5382c"/><path d="M804.4,636.8 L809.8,636.8 L808.2,642.6 L806.0,642.6 Z" fill="#e5382c"/></g><g><path d="M891.0,249.2 L900.5,257.8 L881.5,257.8 Z" fill="#a2978a" stroke="#6b6660" stroke-width="0.7" stroke-linejoin="round"/><ellipse cx="891.0" cy="244.0" rx="8.0" ry="2.6" fill="#e5382c"/><ellipse cx="891.0" cy="242.4" rx="4.4" ry="2.1" fill="#e5382c"/><path d="M888.1,244.3 L893.9,244.3 L892.1,250.2 L889.9,250.2 Z" fill="#e5382c"/></g><g><path d="M885.1,273.1 L894.1,280.4 L876.1,280.4 Z" fill="#a2978a" stroke="#6b6660" stroke-width="0.7" stroke-linejoin="round"/><ellipse cx="885.1" cy="268.7" rx="7.6" ry="2.2" fill="#e5382c"/><ellipse cx="885.1" cy="267.4" rx="4.2" ry="1.7" fill="#e5382c"/><path d="M882.4,269.0 L887.8,269.0 L886.2,274.1 L884.0,274.1 Z" fill="#e5382c"/></g><g><path d="M880.1,321.0 L890.6,330.6 L869.6,330.6 Z" fill="#a2978a" stroke="#6b6660" stroke-width="0.7" stroke-linejoin="round"/><ellipse cx="880.1" cy="315.3" rx="8.8" ry="2.9" fill="#e5382c"/><ellipse cx="880.1" cy="313.5" rx="4.9" ry="2.3" fill="#e5382c"/><path d="M877.0,315.6 L883.2,315.6 L881.4,322.0 L878.8,322.0 Z" fill="#e5382c"/></g><g><path d="M650.8,483.6 L664.8,497.0 L636.8,497.0 Z" fill="#a2978a" stroke="#4a5a5c" stroke-width="1.3" stroke-linejoin="round"/><ellipse cx="650.8" cy="475.7" rx="11.8" ry="4.0" fill="#e5382c"/><ellipse cx="650.8" cy="473.0" rx="6.5" ry="3.2" fill="#e5382c"/><path d="M646.6,476.0 L655.0,476.0 L652.5,484.6 L649.1,484.6 Z" fill="#e5382c"/></g>
<rect x="858" y="632" width="40" height="38" fill="#86cbf6"/><g><path d="M878.0,651.6 L893.5,666.0 L862.5,666.0 Z" fill="#a2978a" stroke="#4a5a5c" stroke-width="1.3" stroke-linejoin="round"/><ellipse cx="878.0" cy="643.2" rx="13.0" ry="4.3" fill="#e5382c"/><ellipse cx="878.0" cy="640.3" rx="7.2" ry="3.4" fill="#e5382c"/><path d="M873.4,643.5 L882.6,643.5 L879.9,652.6 L876.1,652.6 Z" fill="#e5382c"/></g></g>
<line x1="226.7" y1="168.3" x2="269.8" y2="173.7" stroke="#222" stroke-width="1.9"/><path d="M280.0,175.0 L267.5,178.5 L269.8,173.7 L268.7,168.5 Z" fill="#222"/><line x1="186.7" y1="233.3" x2="213.8" y2="236.9" stroke="#222" stroke-width="1.9"/><path d="M224.0,238.3 L211.4,241.7 L213.8,236.9 L212.8,231.8 Z" fill="#222"/><line x1="133.3" y1="308.3" x2="123.1" y2="316.3" stroke="#222" stroke-width="1.9"/><path d="M115.0,322.7 L121.3,311.3 L123.1,316.3 L127.5,319.2 Z" fill="#222"/><line x1="322.7" y1="299.3" x2="340.6" y2="291.0" stroke="#3a1a0a" stroke-width="1.9"/><path d="M350.0,286.7 L341.2,296.3 L340.6,291.0 L337.0,287.2 Z" fill="#3a1a0a"/><line x1="98.3" y1="441.7" x2="117.3" y2="399.4" stroke="#222" stroke-width="1.9"/><path d="M121.5,390.0 L121.1,403.0 L117.3,399.4 L112.0,398.9 Z" fill="#222"/><line x1="166.7" y1="433.3" x2="166.6" y2="406.8" stroke="#222" stroke-width="1.9"/><path d="M166.5,396.5 L171.6,408.5 L166.6,406.8 L161.6,408.5 Z" fill="#222"/><line x1="222.7" y1="425.7" x2="178.2" y2="394.7" stroke="#222" stroke-width="1.9"/><path d="M169.7,388.8 L182.4,391.6 L178.2,394.7 L176.7,399.8 Z" fill="#222"/><line x1="459.0" y1="288.3" x2="491.4" y2="303.8" stroke="#222" stroke-width="1.9"/><path d="M500.7,308.3 L487.7,307.6 L491.4,303.8 L492.0,298.6 Z" fill="#222"/><line x1="463.3" y1="324.3" x2="483.8" y2="341.6" stroke="#222" stroke-width="1.9"/><path d="M491.7,348.3 L479.3,344.4 L483.8,341.6 L485.8,336.7 Z" fill="#222"/><line x1="550.0" y1="251.7" x2="550.0" y2="283.7" stroke="#222" stroke-width="1.9"/><path d="M550.0,294.0 L545.0,282.0 L550.0,283.7 L555.0,282.0 Z" fill="#222"/><line x1="700.0" y1="201.7" x2="733.0" y2="201.7" stroke="#222" stroke-width="1.9"/><path d="M743.3,201.7 L731.3,206.7 L733.0,201.7 L731.3,196.7 Z" fill="#222"/><line x1="699.3" y1="266.7" x2="746.4" y2="266.7" stroke="#3a1a0a" stroke-width="1.9"/><path d="M756.7,266.7 L744.7,271.7 L746.4,266.7 L744.7,261.7 Z" fill="#3a1a0a"/><line x1="636.7" y1="286.7" x2="619.9" y2="291.9" stroke="#222" stroke-width="1.9"/><path d="M610.0,295.0 L620.0,286.7 L619.9,291.9 L622.9,296.2 Z" fill="#222"/><line x1="516.7" y1="411.7" x2="511.3" y2="400.9" stroke="#222" stroke-width="1.9"/><path d="M506.7,391.7 L516.5,400.2 L511.3,400.9 L507.6,404.7 Z" fill="#222"/><line x1="587.3" y1="460.0" x2="606.3" y2="409.7" stroke="#222" stroke-width="1.9"/><path d="M610.0,400.0 L610.4,413.0 L606.3,409.7 L601.1,409.5 Z" fill="#222"/><line x1="730.7" y1="428.3" x2="750.2" y2="413.1" stroke="#222" stroke-width="1.9"/><path d="M758.3,406.7 L751.9,418.0 L750.2,413.1 L745.8,410.2 Z" fill="#222"/><line x1="685.0" y1="518.3" x2="665.7" y2="472.8" stroke="#223" stroke-width="1.9"/><path d="M661.7,463.3 L671.0,472.4 L665.7,472.8 L661.8,476.3 Z" fill="#223"/><line x1="899.4" y1="440.0" x2="894.6" y2="437.0" stroke="#222" stroke-width="1.9"/><path d="M885.8,431.5 L898.6,433.6 L894.6,437.0 L893.3,442.1 Z" fill="#222"/><line x1="944.7" y1="326.8" x2="930.9" y2="339.5" stroke="#223" stroke-width="1.9"/><path d="M923.3,346.5 L928.7,334.7 L930.9,339.5 L935.5,342.1 Z" fill="#223"/><line x1="792.3" y1="673.0" x2="807.9" y2="670.0" stroke="#222" stroke-width="1.9"/><path d="M818.0,668.0 L807.2,675.2 L807.9,670.0 L805.3,665.4 Z" fill="#222"/><line x1="634.0" y1="333.0" x2="634.0" y2="341.6" stroke="#223" stroke-width="1.4"/><path d="M634.0,348.5 L630.8,340.5 L634.0,341.6 L637.2,340.5 Z" fill="#223"/><line x1="927.3" y1="400.0" x2="927.3" y2="414.3" stroke="#223" stroke-width="1.4"/><path d="M927.3,422.0 L923.9,413.0 L927.3,414.3 L930.7,413.0 Z" fill="#223"/>
<g fill="#111"><circle cx="64.0" cy="296.5" r="6.7"/><circle cx="107.0" cy="333.0" r="6.7"/><circle cx="238.2" cy="241.2" r="6.7"/><circle cx="291.5" cy="143.5" r="6.7"/><circle cx="365.5" cy="281.3" r="6.7"/><circle cx="459.4" cy="484.0" r="6.7"/><circle cx="500.5" cy="357.2" r="7.5"/><circle cx="596.8" cy="301.3" r="6.9"/><circle cx="727.5" cy="234.9" r="6.7"/><circle cx="763.5" cy="199.0" r="6.9"/><circle cx="772.8" cy="268.4" r="6.9"/><circle cx="829.8" cy="664.0" r="6.7"/><circle cx="910.2" cy="230.8" r="6.6"/><circle cx="916.8" cy="356.3" r="6.5"/><circle cx="927.3" cy="159.7" r="6.8"/><circle cx="927.5" cy="397.3" r="6.6"/></g>
</svg>
<div class="bx" style="left:267.0px;top:791.0px;width:328.0px;height:63.0px"></div><div class="bx" style="left:106.0px;top:877.0px;width:491.0px;height:83.0px"></div><div class="bx" style="left:622.0px;top:790.0px;width:269.0px;height:65.0px"></div><div class="bx" style="left:622.0px;top:879.0px;width:346.0px;height:62.5px"></div>
<div class="t" style="left:299.3px;top:10.0px;font-size:37.5px;line-height:40px;letter-spacing:-0.300px;font-weight:bold;"><span style="letter-spacing:-0.147px">Klimawandel gab es IMMER schon</span></div><div class="t" style="left:275.8px;top:56.8px;font-size:24.3px;line-height:28px;letter-spacing:-0.194px;font-weight:bold;color:#e8212b;"><span style="letter-spacing:-0.004px">GLOBALE TEMPERATUREN (2500 v.Chr. bis 2008 n.Chr.)</span></div><div class="t" style="left:24.3px;top:66.8px;font-size:24px;line-height:28px;letter-spacing:-0.408px;"><span style="letter-spacing:0.237px">2500 v.Chr. - 0</span></div><div class="t" style="left:519.3px;top:90.8px;font-size:24px;line-height:28px;letter-spacing:-0.408px;"><span style="letter-spacing:0.029px">0 - 2008</span></div><div class="t" style="left:256.7px;top:117.1px;font-size:15px;line-height:17.25px;letter-spacing:-0.255px;">1100 v.Chr.</div><div class="t" style="left:108.8px;top:146.4px;font-size:15px;line-height:16.7px;letter-spacing:-0.255px;">Legende: Auszug<br>aus Ägypten</div><div class="t" style="left:109.8px;top:181.8px;font-size:15px;line-height:17.25px;letter-spacing:-0.255px;">Fantasie-Moses</div><div class="t" style="left:67.8px;top:206.1px;font-size:15px;line-height:16.7px;letter-spacing:-0.255px;">einige<br>Vulkanausbrüche</div><div class="t" style="left:262.8px;top:205.4px;font-size:15px;line-height:17.25px;letter-spacing:-0.120px;font-weight:bold;"><span style="letter-spacing:-0.010px">STARKE</span></div><div class="t" style="left:254.8px;top:222.8px;font-size:15px;line-height:17.25px;letter-spacing:-0.120px;font-weight:bold;"><span style="letter-spacing:-0.236px">WARMZEIT</span></div><div class="t" style="left:248.8px;top:248.4px;font-size:15px;line-height:17.25px;letter-spacing:-0.255px;">China, Persien,</div><div class="t" style="left:269.3px;top:265.1px;font-size:15px;line-height:17.25px;letter-spacing:-0.255px;">Ägypten</div><div class="t" style="left:251.8px;top:296.4px;font-size:15px;line-height:16.5px;letter-spacing:-0.255px;">plötzliche<br>Abkühlung</div><div class="t" style="left:50.5px;top:267.1px;font-size:15px;line-height:17.25px;letter-spacing:-0.255px;">2200 v.Chr.</div><div class="t" style="left:138.5px;top:289.4px;font-size:15px;line-height:16.7px;letter-spacing:-0.255px;">plötzliche<br>Abkühlung</div><div class="t" style="left:11.5px;top:321.8px;font-size:15px;line-height:17.25px;letter-spacing:-0.120px;font-weight:bold;"><span style="letter-spacing:-0.324px">WARMZEIT</span></div><div class="t" style="left:15.2px;top:433.7px;font-size:15px;line-height:16.9px;letter-spacing:-0.255px;"><span style="letter-spacing:-0.331px">Mindestens</span><br><span style="letter-spacing:-0.147px">10 Ausbrüche:</span><br><span style="letter-spacing:-0.295px">Italien, Pazifik,</span><br><span style="letter-spacing:-0.321px">Alaska</span></div><div class="t" style="left:122.2px;top:439.1px;font-size:15px;line-height:16.6px;letter-spacing:-0.255px;"><span style="letter-spacing:-0.335px">Normannen:</span><br><span style="letter-spacing:-0.021px">grosse</span><br><span style="letter-spacing:-0.180px">Wanderungen</span></div><div class="t" style="left:122.2px;top:492.8px;font-size:15px;line-height:17.25px;letter-spacing:-0.120px;font-weight:bold;color:#4545c8;"><span style="letter-spacing:-0.035px">KALTZEIT</span></div><div class="t" style="left:225.1px;top:429.8px;font-size:15px;line-height:16.95px;letter-spacing:-0.255px;"><span style="letter-spacing:-0.177px">25 Ausbrüche:</span><br><span style="letter-spacing:-0.183px">Pazifik</span><br><span style="letter-spacing:-0.253px">Kolumbien</span><br><span style="letter-spacing:-0.461px">Italien</span><br><span style="letter-spacing:-0.455px">Island</span></div><div class="t" style="left:338.8px;top:437.7px;font-size:15px;line-height:16.9px;letter-spacing:-0.255px;"><span style="letter-spacing:-0.229px">Italien: Aus-</span><br><span style="letter-spacing:-0.212px">brüche von</span><br><span style="letter-spacing:-0.257px">Vesuv+Äthna</span></div><div class="t" style="left:480.5px;top:152.8px;font-size:15px;line-height:17.25px;letter-spacing:-0.255px;">0 n.Chr.</div><div class="t" style="left:397.2px;top:213.8px;font-size:15px;line-height:17.03px;letter-spacing:-0.255px;"><span style="letter-spacing:-0.216px">Italien: Vesuv</span><br><span style="letter-spacing:-0.129px">Ausbruch 79</span><br><span style="letter-spacing:-0.030px">n.Chr.: Pompei</span><br><span style="letter-spacing:0.017px">wird zerstört</span></div><div class="t" style="left:396.8px;top:295.7px;font-size:15px;line-height:16.9px;letter-spacing:-0.255px;"><span style="letter-spacing:-0.137px">Fantasie-</span><br><span style="letter-spacing:-0.140px">Jesus J.4</span></div><div class="t" style="left:399.3px;top:330.6px;font-size:15px;line-height:17.25px;letter-spacing:-0.255px;"><span style="letter-spacing:-0.230px">Code 33</span></div><div class="t" style="left:521.2px;top:213.8px;font-size:15px;line-height:16.7px;letter-spacing:-0.255px;">Griechen<br>"Römer"</div><div class="t" style="left:583.7px;top:173.1px;font-size:15px;line-height:16.8px;letter-spacing:-0.255px;"><span style="letter-spacing:-0.227px">Wikinger-Fahrten</span><br><span style="letter-spacing:-0.251px">nach NO-Kanada</span></div><div class="t" style="left:722.7px;top:173.8px;font-size:15px;line-height:17.25px;letter-spacing:-0.255px;">1300 n.Chr.</div><div class="t" style="left:603.8px;top:214.6px;font-size:15px;line-height:16.9px;letter-spacing:-0.255px;"><span style="letter-spacing:-0.301px">ein paar</span><br><span style="letter-spacing:-0.191px">Vulkanausbrüche</span></div><div class="t" style="left:626.9px;top:251.6px;font-size:15px;line-height:16.9px;letter-spacing:-0.255px;"><span style="letter-spacing:-0.080px">Plötzliche</span><br><span style="letter-spacing:-0.399px">Abkühlung</span></div><div class="t" style="left:612.1px;top:299.4px;font-size:15px;line-height:17.3px;letter-spacing:-0.255px;"><span style="letter-spacing:-0.125px">Fantasie-</span><br><span style="letter-spacing:-0.250px">Mohammed</span></div><div class="t" style="left:642.9px;top:331.9px;font-size:15px;line-height:17.25px;letter-spacing:-0.255px;">622</div><div class="t" style="left:520.5px;top:322.8px;font-size:15px;line-height:17.25px;letter-spacing:-0.120px;font-weight:bold;"><span style="letter-spacing:-0.199px">WARMZEIT</span></div><div class="t" style="left:712.9px;top:278.6px;font-size:15px;line-height:17.25px;letter-spacing:0.000px;transform:scaleX(0.815);transform-origin:0 0;">Kreuzzüge</div><div class="t" style="left:711.0px;top:296.3px;font-size:15px;line-height:17.25px;letter-spacing:0.000px;transform:scaleX(0.8);transform-origin:0 0;">Italien+Ru</div><div class="t" style="left:700.8px;top:313.3px;font-size:15px;line-height:17.25px;letter-spacing:0.000px;transform:scaleX(0.855);transform-origin:0 0;">Islam+China</div><div class="t" style="left:701.7px;top:330.2px;font-size:15px;line-height:17.25px;letter-spacing:0.000px;font-weight:bold;transform:scaleX(0.835);transform-origin:0 0;">WARMZEIT</div><div class="t" style="left:426.8px;top:400.4px;font-size:15px;line-height:17.25px;letter-spacing:-0.255px;">Griechen</div><div class="t" style="left:438.5px;top:416.8px;font-size:15px;line-height:17.25px;letter-spacing:-0.255px;">land</div><div class="t" style="left:429.5px;top:496.8px;font-size:15px;line-height:17.25px;letter-spacing:-0.255px;">250 v.Chr.</div><div class="t" style="left:425.2px;top:517.8px;font-size:15px;line-height:17.25px;letter-spacing:-0.120px;font-weight:bold;color:#4545c8;"><span style="letter-spacing:0.003px">KALTZEIT</span></div><div class="t" style="left:512.4px;top:416.3px;font-size:15px;line-height:16.9px;letter-spacing:-0.255px;"><span style="letter-spacing:-0.376px">35 Vulkan-</span><br><span style="letter-spacing:-0.172px">ausbrüche</span></div><div class="t" style="left:516.2px;top:467.4px;font-size:15px;line-height:16.92px;letter-spacing:-0.255px;"><span style="letter-spacing:-0.208px">Vulkanausbruch</span><br><span style="letter-spacing:-0.332px">Krakatoa in Indo-</span><br><span style="letter-spacing:-0.273px">nesien 535-550</span><br><span style="letter-spacing:-0.195px">+ 10 weitere</span><br><span style="letter-spacing:-0.224px">Ausbrüche</span></div><div class="t" style="left:637.2px;top:413.1px;font-size:15px;line-height:17.25px;letter-spacing:0.000px;transform:scaleX(0.85);transform-origin:0 0;">Mittel-</div><div class="t" style="left:637.2px;top:432.7px;font-size:15px;line-height:17.25px;letter-spacing:0.000px;transform:scaleX(0.83);transform-origin:0 0;">alter</div><div class="t" style="left:685.6px;top:435.5px;font-size:15px;line-height:16.87px;letter-spacing:-0.255px;"><span style="letter-spacing:-0.290px">1335-1360:</span><br><span style="letter-spacing:-0.200px">24 Ausbrüche:</span><br><span style="letter-spacing:-0.265px">Italien, Pazifik,</span><br><span style="letter-spacing:-0.299px">Alaska, Island</span></div><div class="t" style="left:663.1px;top:527.8px;font-size:15px;line-height:17.25px;letter-spacing:-0.255px;"><span style="letter-spacing:-0.060px">11 Ausbrüche</span></div><div class="t" style="left:595.6px;top:551.3px;font-size:15px;line-height:17.25px;letter-spacing:-0.255px;"><span style="letter-spacing:-0.363px">Völkerwanderung</span></div><div class="t" style="left:612.5px;top:570.7px;font-size:15px;line-height:17.25px;letter-spacing:-0.120px;font-weight:bold;color:#4545c8;"><span style="letter-spacing:-0.072px">KALTZEIT</span></div><div class="t" style="left:872.4px;top:112.6px;font-size:15px;line-height:17.25px;letter-spacing:-0.120px;font-weight:bold;color:#e8212b;"><span style="letter-spacing:-0.263px">Warmzeitzyklus</span></div><div class="t" style="left:909.2px;top:131.4px;font-size:15px;line-height:17.25px;letter-spacing:-0.120px;font-weight:bold;color:#e8212b;"><span style="letter-spacing:-0.493px">2038</span></div><div class="t" style="left:819.4px;top:171.5px;font-size:16px;line-height:18.4px;letter-spacing:-0.272px;"><span style="letter-spacing:-0.219px">58.3°F=14,6°C</span></div><div class="t" style="left:889.8px;top:191.2px;font-size:15px;line-height:17.25px;letter-spacing:0.000px;font-weight:bold;color:#333;transform:scaleX(1.05);transform-origin:0 0;filter:blur(0.35px);-webkit-text-stroke:0.3px #333;">1998</div><div class="t" style="left:887.5px;top:207.2px;font-size:16px;line-height:18.4px;letter-spacing:0.000px;font-weight:bold;color:#383838;transform:scaleX(1.09);transform-origin:0 0;filter:blur(0.35px);-webkit-text-stroke:0.3px #383838;">58.3°F</div><div class="t" style="left:847.7px;top:234.3px;font-size:15px;line-height:17.25px;letter-spacing:-0.255px;"><span style="letter-spacing:-0.543px">1991</span></div><div class="t" style="left:801.7px;top:263.2px;font-size:15px;line-height:17.25px;letter-spacing:-0.255px;"><span style="letter-spacing:-0.222px">1980+1982</span></div><div class="t" style="left:831.3px;top:318.9px;font-size:15px;line-height:17.15px;letter-spacing:-0.255px;">1883<br>1851<br>1845</div><div class="t" style="left:940.5px;top:245.2px;font-size:53px;line-height:56px;letter-spacing:0.000px;font-weight:bold;color:#c8352b;filter:blur(0.5px);">?</div><div class="t" style="left:937.1px;top:305.7px;font-size:14px;line-height:16.099999999999998px;letter-spacing:-0.112px;font-weight:bold;"><span style="letter-spacing:0.089px">2008</span></div><div class="t" style="left:996.6px;top:221.7px;font-size:15px;line-height:17.1px;letter-spacing:-0.255px;"><span style="letter-spacing:-0.272px">1991: Philippinen: Pinatubo</span><br><span style="letter-spacing:-0.253px">1982: Mexiko:El Chichón</span><br><span style="letter-spacing:-0.351px">1980: "USA": Mount Helens</span></div><div class="t" style="left:996.6px;top:293.3px;font-size:15px;line-height:17.0px;letter-spacing:-0.255px;"><span style="letter-spacing:-0.257px">1883: Indonesien: Krakatoa</span><br><span style="letter-spacing:-0.284px">1851: Martinique: Pelee</span><br><span style="letter-spacing:-0.231px">1845: Kolumbien: Nevado del Ruiz</span></div><div class="t" style="left:934.5px;top:342.8px;font-size:15.2px;line-height:17.479999999999997px;letter-spacing:0.000px;font-weight:bold;color:#3c9a6c;transform:scaleX(1.13);transform-origin:0 0;filter:blur(0.4px);-webkit-text-stroke:0.25px #3c9a6c;">57°F</div><div class="t" style="left:930.0px;top:364.6px;font-size:11.4px;line-height:13.11px;letter-spacing:0.000px;font-weight:bold;color:#3c9a6c;transform:scaleX(1.18);transform-origin:0 0;filter:blur(0.4px);-webkit-text-stroke:0.25px #3c9a6c;">Norma</div><div class="t" style="left:981.1px;top:363.3px;font-size:16px;line-height:18.4px;letter-spacing:-0.272px;"><span style="letter-spacing:-0.183px">57°F=13,9°C</span></div><div class="t" style="left:942.5px;top:386.7px;font-size:15px;line-height:17.3px;letter-spacing:-0.255px;"><span style="letter-spacing:-0.285px">2090 könnte es dann</span><br><span style="letter-spacing:-0.271px">wieder viel kälter werden.</span></div><div class="t" style="left:801.8px;top:410.2px;font-size:15px;line-height:17.25px;letter-spacing:-0.255px;"><span style="letter-spacing:-0.264px">Vatikan-</span></div><div class="t" style="left:804.1px;top:428.3px;font-size:15px;line-height:16.8px;letter-spacing:-0.255px;"><span style="letter-spacing:-0.342px">Kolonia-</span><br><span style="letter-spacing:-0.024px">lismus:</span><br><span style="letter-spacing:-0.204px">Propa-</span><br>ganda<br>für die<br>Flucht<br>in die<br><span style="letter-spacing:-0.179px">Tropen</span></div><div class="t" style="left:886.6px;top:446.9px;font-size:15px;line-height:17.25px;letter-spacing:-0.255px;"><span style="letter-spacing:-0.298px">1815: Indonesien:</span></div><div class="t" style="left:915.0px;top:463.5px;font-size:15px;line-height:17.25px;letter-spacing:-0.255px;"><span style="letter-spacing:-0.081px">Mt. Tambora</span></div><div class="t" style="left:885.6px;top:499.8px;font-size:15px;line-height:17.25px;letter-spacing:-0.255px;"><span style="letter-spacing:-0.276px">1792: Japan: Unzen</span></div><div class="t" style="left:886.6px;top:525.8px;font-size:15px;line-height:17.25px;letter-spacing:-0.255px;"><span style="letter-spacing:-0.276px">1783: Island: Lakagigar</span></div><div class="t" style="left:812.0px;top:573.4px;font-size:15px;line-height:17.25px;letter-spacing:-0.255px;"><span style="letter-spacing:-0.260px">Kar-</span></div><div class="t" style="left:811.7px;top:590.4px;font-size:15px;line-height:17.25px;letter-spacing:-0.255px;"><span style="letter-spacing:-0.241px">toffel</span></div><div class="t" style="left:804.7px;top:608.6px;font-size:15px;line-height:17.25px;letter-spacing:-0.255px;"><span style="letter-spacing:-0.300px">Drogen</span></div><div class="t" style="left:884.7px;top:554.8px;font-size:15px;line-height:17.25px;letter-spacing:-0.255px;"><span style="letter-spacing:-0.339px">1772: Indonesien:</span></div><div class="t" style="left:912.9px;top:571.2px;font-size:15px;line-height:17.25px;letter-spacing:-0.255px;"><span style="letter-spacing:-0.315px">Papadanyan</span></div><div class="t" style="left:877.7px;top:599.0px;font-size:15px;line-height:17.25px;letter-spacing:-0.255px;"><span style="letter-spacing:-0.252px">1741: Italien: Vesuv</span></div><div class="t" style="left:647.2px;top:618.9px;font-size:15px;line-height:16.9px;letter-spacing:-0.255px;">1586 Indonesien<br><span style="letter-spacing:-0.157px">Vulkanausbruch Kerut</span></div><div class="t" style="left:645.5px;top:656.2px;font-size:15px;line-height:17.1px;letter-spacing:-0.255px;">1607 Gründung von<br>Jamestown (Virginia)</div><div class="t" style="left:632.4px;top:694.0px;font-size:15px;line-height:16.9px;letter-spacing:-0.255px;">Kolonialismus:<br>Kartoffel aus Peru<br>Drogen aus S-Am<br>Gold+Silberraub</div><div class="t" style="left:633.5px;top:762.7px;font-size:15px;line-height:17.25px;letter-spacing:-0.255px;">Sklaverei etc.</div><div class="t" style="left:807.9px;top:679.7px;font-size:15px;line-height:17.25px;letter-spacing:0.000px;font-weight:bold;color:#383838;transform:scaleX(1.16);transform-origin:0 0;filter:blur(0.35px);-webkit-text-stroke:0.3px #383838;">54.3°F?</div><div class="t" style="left:787.1px;top:703.0px;font-size:15px;line-height:17.25px;letter-spacing:-0.120px;font-weight:bold;color:#4545c8;"><span style="letter-spacing:-0.072px">KALTZEIT</span></div><div class="t" style="left:763.9px;top:723.0px;font-size:15px;line-height:17.25px;letter-spacing:-0.120px;font-weight:bold;color:#4545c8;"><span style="letter-spacing:-0.082px">KLEINE EISZEIT</span></div><div class="t" style="left:763.2px;top:744.8px;font-size:16px;line-height:18.4px;letter-spacing:-0.272px;"><span style="letter-spacing:-0.240px">54.3°F? = 12,4°C</span></div><div class="t" style="left:901.0px;top:629.7px;font-size:15px;line-height:17.15px;letter-spacing:-0.255px;">1350-1850:<br>insgesamt<br>mindestens 90<br>Vulkanausbrüche,<br><span style="letter-spacing:-0.332px">davon allein 1660 4</span></div><div class="t" style="left:16.8px;top:541.1px;font-size:16px;line-height:18.1px;letter-spacing:-0.128px;font-weight:bold;"><span style="letter-spacing:-0.009px">Faktoren für Klimawandel:</span></div><div class="t" style="left:16.8px;top:560.5px;font-size:16px;line-height:17.96px;letter-spacing:-0.272px;"><span style="letter-spacing:-0.224px">-- Sonnenaktivität stark oder schwach</span><br><span style="letter-spacing:-0.184px">-- Position der Erde zur Sonne (Sommer+Winter)</span><br><span style="letter-spacing:-0.249px">-- unterirdische Magmakammern können sich ausdehnen (das</span><br><span style="letter-spacing:-0.229px">Meer wird wärmer, dehnt sich aus+steigt) oder zusammenziehen</span><br><span style="letter-spacing:-0.213px">(das Meer wird kälter, zieht sich zusammen+sinkt)</span><br><span style="letter-spacing:-0.245px">-- kurze Vulkanausbrüche bewirken durch die Vulkanasche in der</span><br><span style="letter-spacing:-0.307px">Luft eine kurze Abkühlung, lang anhaltende Vulkanausbrüche</span><br><span style="letter-spacing:-0.209px">bewirken durch die Asche in der Luft eine lange Abkühlung</span><br><span style="letter-spacing:-0.233px">-- Eiszeiten kommen, wenn das Sonnensystem einen Arm der</span><br><span style="letter-spacing:-0.212px">Milchstrasse passiert (Analyse von Svensmark)</span><br><span style="letter-spacing:-0.194px">-- das CO2 ist sicher NICHT an Klimawandel beteiligt.</span></div><div class="t" style="left:275.8px;top:797.9px;font-size:16px;line-height:18.95px;letter-spacing:-0.128px;font-weight:bold;"><span style="letter-spacing:0.123px">IN DEN VERGANGENEN 4500 JAHREN</span><br><span style="letter-spacing:0.140px">GAB ES MINDESTENS 75 TEMPERATUR-</span><br><span style="letter-spacing:0.254px">SCHWANKUNGEN</span></div><div class="t" style="left:114.0px;top:883.7px;font-size:16px;line-height:18.5px;letter-spacing:-0.128px;font-weight:bold;"><span style="letter-spacing:0.066px">1991: Vulkanausbruch des Pinatubo (Philippinen)</span></div><div class="t" style="left:115.1px;top:902.3px;font-size:16px;line-height:18.2px;letter-spacing:-0.272px;"><span style="letter-spacing:-0.151px">Von Juni 1991 bis März 1992 fiel die weltweite Temperatur um</span><br><span style="letter-spacing:-0.256px">1,1°Fahrenheit. Die globale Temperatur ging von 0,6° über normal auf</span><br><span style="letter-spacing:-0.477px">0,5° unter normal zurück.</span></div><div class="t" style="left:629.4px;top:796.7px;font-size:16px;line-height:18.5px;letter-spacing:-0.128px;font-weight:bold;"><span style="letter-spacing:-0.033px">Die Temperatur sinkt plötzlich</span></div><div class="t" style="left:629.4px;top:816.1px;font-size:16px;line-height:18.0px;letter-spacing:-0.272px;"><span style="letter-spacing:-0.311px">-- bei abnehmender Sonnenstrahlung</span><br><span style="letter-spacing:-0.346px">-- nach Vulkanausbrüchen</span></div><div class="t" style="left:630.8px;top:886.2px;font-size:16px;line-height:18.5px;letter-spacing:-0.128px;font-weight:bold;"><span style="letter-spacing:-0.039px">2008 mit weltweiter Abkühlung</span></div><div class="t" style="left:630.8px;top:905.2px;font-size:16px;line-height:18.0px;letter-spacing:-0.272px;"><span style="letter-spacing:-0.126px">Die globale Temperatur sank von Mitte 2007 bis</span><br><span style="letter-spacing:-0.285px">Januar 2008 um 0,7°Fahrenheit.</span></div><div class="t" style="left:1003.3px;top:791.9px;font-size:16px;line-height:17.97px;letter-spacing:-0.272px;"><span style="letter-spacing:-0.278px">MUTTER ERDE</span><br><span style="letter-spacing:-0.324px">Die Ureinwohner schützten</span><br><span style="letter-spacing:-0.265px">den Planeten (Mutter Erde)</span><br><span style="letter-spacing:-0.267px">und der Planet gibt uns das</span><br><span style="letter-spacing:-0.269px">Essen und die Naturmedizin.</span><br><span style="letter-spacing:-0.073px">Dieses Wissen garantiert</span><br><span style="letter-spacing:-0.292px">Gesundheit und das Leben.</span></div><div class="t" style="left:574.5px;top:974.6px;font-size:16px;line-height:19.1px;letter-spacing:0.000px;"><b style="letter-spacing:-0.183px">Klimakurve von</b><span style="letter-spacing:-0.115px">: Climatologist Cliff Harris &amp; Meteorologist Randy Mann 2008</span><br><b style="letter-spacing:0.036px">Übersetzung mit Ergänzungen</b><span style="letter-spacing:-0.203px"> von Michael Palomino, </span><u><span style="letter-spacing:-0.336px">www.hist-chron.com</span></u><span style="letter-spacing:-0.063px"> 31.3.2023</span></div>
<div class="fr" style="left:0;top:0;width:1245px;height:2.5px;background:#6b6b6b"></div>
<div class="fr" style="left:0;top:0;width:3px;height:1031px;background:#6b6b6b"></div>
<div class="fr" style="left:1241px;top:0;width:4px;height:1031px;background:#626262"></div>
<div class="fr" style="left:0;top:1027px;width:1245px;height:4px;background:#626262"></div>
</body></html>
